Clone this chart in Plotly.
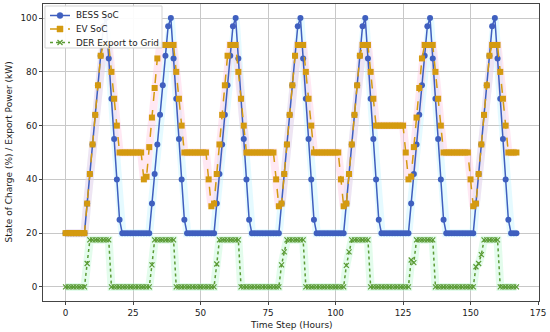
import plotly.graph_objects as go

hours = list(range(168))

bess_soc = [
    20, 20, 20, 20, 20, 20, 20, 20, 31, 42, 53, 64, 75, 86, 97, 100, 85, 70, 55, 40, 25, 20, 20, 20,
    20, 20, 20, 20, 20, 20, 20, 20, 31, 42, 53, 64, 75, 86, 97, 100, 85, 70, 55, 40, 25, 20, 20, 20,
    20, 20, 20, 20, 20, 20, 20, 20, 31, 42, 53, 64, 75, 86, 97, 100, 85, 70, 55, 40, 25, 20, 20, 20,
    20, 20, 20, 20, 20, 20, 20, 20, 31, 42, 53, 64, 75, 86, 97, 100, 85, 70, 55, 40, 25, 20, 20, 20,
    20, 20, 20, 20, 20, 20, 20, 20, 31, 42, 53, 64, 75, 86, 97, 100, 85, 70, 55, 40, 25, 20, 20, 20,
    20, 20, 20, 20, 20, 20, 20, 20, 31, 42, 53, 64, 75, 86, 97, 100, 85, 70, 55, 40, 25, 20, 20, 20,
    20, 20, 20, 20, 20, 20, 20, 20, 31, 42, 53, 64, 75, 86, 97, 100, 85, 70, 55, 40, 25, 20, 20, 20,
]

ev_soc = [
    20, 20, 20, 20, 20, 20, 20, 20, 31, 42, 53, 64, 75, 86, 90, 90, 90, 80, 70, 60, 50, 50, 50, 50,
    50, 50, 50, 50, 50, 40, 41, 52, 63, 74, 85, 90, 90, 90, 90, 90, 90, 80, 70, 60, 50, 50, 50, 50,
    50, 50, 50, 50, 50, 40, 30, 31, 42, 53, 64, 75, 86, 90, 90, 90, 80, 70, 60, 50, 50, 50, 50, 50,
    50, 50, 50, 50, 50, 50, 40, 30, 31, 42, 53, 64, 75, 86, 90, 90, 90, 80, 70, 60, 50, 50, 50, 50,
    50, 50, 50, 50, 50, 50, 40, 30, 31, 42, 53, 64, 75, 86, 90, 90, 90, 80, 70, 60, 60, 60, 60, 60,
    60, 60, 60, 60, 60, 60, 50, 40, 41, 52, 63, 74, 85, 90, 90, 90, 90, 80, 70, 60, 50, 50, 50, 50,
    50, 50, 50, 50, 50, 50, 40, 30, 31, 42, 53, 64, 75, 86, 90, 90, 90, 80, 70, 60, 50, 50, 50, 50,
]

der_export = [
    0, 0, 0, 0, 0, 0, 0, 0, 8.7, 17.5, 17.5, 17.5, 17.5, 17.5, 17.5, 17.5, 17.5, 0, 0, 0, 0, 0, 0, 0,
    0, 0, 0, 0, 0, 0, 0, 0, 8.2, 17.5, 17.5, 17.5, 17.5, 17.5, 17.5, 17.5, 17.5, 0, 0, 0, 0, 0, 0, 0,
    0, 0, 0, 0, 0, 0, 0, 0, 8.5, 17.5, 17.5, 17.5, 17.5, 17.5, 17.5, 17.5, 17.5, 0, 0, 0, 0, 0, 0, 0,
    0, 0, 0, 0, 0, 0, 0, 0, 8.2, 13.0, 17.5, 17.5, 17.5, 17.5, 17.5, 17.5, 17.5, 0, 0, 0, 0, 0, 0, 0,
    0, 0, 0, 0, 0, 0, 0, 0, 8.0, 13.0, 17.5, 17.5, 17.5, 17.5, 17.5, 17.5, 17.5, 0, 0, 0, 0, 0, 0, 0,
    0, 0, 0, 0, 0, 0, 0, 0, 10.0, 9.0, 17.5, 17.5, 17.5, 17.5, 17.5, 17.5, 17.5, 0, 0, 0, 0, 0, 0, 0,
    0, 0, 0, 0, 0, 0, 0, 0, 7.5, 8.7, 12.0, 17.5, 17.5, 17.5, 17.5, 17.5, 17.5, 0, 0, 0, 0, 0, 0, 0,
]

series_names = ["BESS SoC", "EV SoC", "DER Export to Grid"]
x_ticks = [0, 25, 50, 75, 100, 125, 150, 175]
y_ticks = [0, 20, 40, 60, 80, 100]

BLUE = "#3f5fbf"
ORANGE = "#d49a10"
GREEN = "#5b9b35"

W, H = 550, 332
ML, MR, MT, MB = 43, 11, 4, 31
PW, PH = W - ML - MR, H - MT - MB


def px(x):
    return (x - ML) / PW


def py(y):
    return (H - MB - y) / PH


fig = go.Figure()

# soft halos behind each series
for ys, halo in [(der_export, "rgba(175,245,200,0.35)"),
                 (bess_soc, "rgba(180,242,255,0.35)"),
                 (ev_soc, "rgba(255,190,220,0.35)")]:
    fig.add_trace(go.Scatter(x=hours, y=ys, mode="lines",
                             line=dict(color=halo, width=8),
                             hoverinfo="skip", showlegend=False))

fig.add_trace(go.Scatter(x=hours, y=bess_soc, mode="lines+markers", name=series_names[0],
                         line=dict(color=BLUE, width=1.5),
                         marker=dict(symbol="circle", size=6, color=BLUE)))
fig.add_trace(go.Scatter(x=hours, y=ev_soc, mode="lines+markers", name=series_names[1],
                         line=dict(color=ORANGE, width=1.5, dash="dash"),
                         marker=dict(symbol="square", size=6, color=ORANGE)))
fig.add_trace(go.Scatter(x=hours, y=der_export, mode="lines+markers", name=series_names[2],
                         line=dict(color=GREEN, width=1.5, dash="dot"),
                         marker=dict(symbol="x-thin", size=5, color=GREEN,
                                     line=dict(color=GREEN, width=1.2))))

# compact matplotlib-style legend drawn with shapes + text
shapes = [dict(type="rect", xref="paper", yref="paper", layer="above",
               x0=px(45), x1=px(162), y0=py(48), y1=py(6),
               fillcolor="rgba(255,255,255,0.93)", line=dict(color="#d3d3d3", width=1))]
annotations = []
rows = [15.5, 29, 42.5]
styles = [(BLUE, "solid"), (ORANGE, "dash"), (GREEN, "dot")]
for i, (yy, (col, dash)) in enumerate(zip(rows, styles)):
    shapes.append(dict(type="line", xref="paper", yref="paper", layer="above",
                       x0=px(50), x1=px(70), y0=py(yy), y1=py(yy),
                       line=dict(color=col, width=1.5, dash=dash)))
    if i == 0:
        shapes.append(dict(type="circle", xref="paper", yref="paper", layer="above",
                           x0=px(57), x1=px(63), y0=py(yy + 3), y1=py(yy - 3),
                           fillcolor=col, line=dict(color=col, width=0.5)))
    elif i == 1:
        shapes.append(dict(type="rect", xref="paper", yref="paper", layer="above",
                           x0=px(57), x1=px(63), y0=py(yy + 3), y1=py(yy - 3),
                           fillcolor=col, line=dict(color=col, width=0.5)))
    else:
        for a, b in [(-2.5, 2.5), (2.5, -2.5)]:
            shapes.append(dict(type="line", xref="paper", yref="paper", layer="above",
                               x0=px(60 - 2.5), x1=px(60 + 2.5), y0=py(yy + a), y1=py(yy + b),
                               line=dict(color=col, width=1.2)))
    annotations.append(dict(text=series_names[i], x=px(74), y=py(yy), xref="paper", yref="paper",
                            xanchor="left", yanchor="middle", showarrow=False,
                            font=dict(size=8.8, family="DejaVu Sans", color="#222")))

annotations += [
    dict(text="Time Step (Hours)", x=0.5, y=0.0, xref="paper", yref="paper",
         xanchor="center", yanchor="top", yshift=-17, showarrow=False,
         font=dict(size=9, family="DejaVu Sans", color="#222")),
    dict(text="State of Charge (%) / Export Power (kW)", x=0, y=0.5, xref="paper", yref="paper",
         xanchor="center", yanchor="middle", xshift=-35, textangle=-90, showarrow=False,
         font=dict(size=9, family="DejaVu Sans", color="#222")),
]

fig.update_layout(
    width=W, height=H,
    margin=dict(l=ML, r=MR, t=MT, b=MB, autoexpand=False),
    paper_bgcolor="white", plot_bgcolor="white",
    font=dict(family="DejaVu Sans", size=9, color="#222"),
    showlegend=False,
    shapes=shapes,
    annotations=annotations,
)
fig.update_xaxes(range=[-8.35, 175.35], tickvals=x_ticks, ticktext=[str(v) for v in x_ticks],
                 showgrid=True, gridcolor="#c8c8c8", gridwidth=1, zeroline=False,
                 showline=True, linecolor="#444", linewidth=1, mirror=True,
                 ticks="outside", ticklen=3, tickcolor="#444", automargin=False,
                 tickfont=dict(size=8.8))
fig.update_yaxes(range=[-5.25, 105.25], tickvals=y_ticks, ticktext=[str(v) for v in y_ticks],
                 showgrid=True, gridcolor="#c8c8c8", gridwidth=1, zeroline=False,
                 showline=True, linecolor="#444", linewidth=1, mirror=True,
                 ticks="outside", ticklen=3, tickcolor="#444", automargin=False,
                 tickfont=dict(size=8.8))

fig.write_html("out.html", config={"displayModeBar": False},
               post_script="document.body.style.margin='0';document.body.style.padding='0';")
